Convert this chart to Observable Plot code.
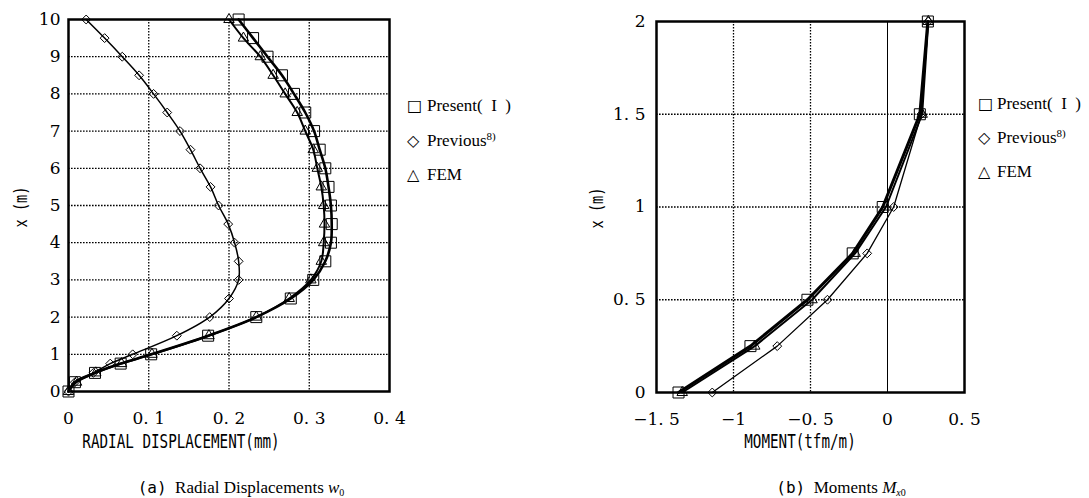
<!DOCTYPE html>
<html><head><meta charset="utf-8">
<script src="https://cdn.jsdelivr.net/npm/d3@7"></script>
<script src="https://cdn.jsdelivr.net/npm/@observablehq/plot@0.6"></script>
<style>
body{margin:0;background:#fff;}
#wrap{position:relative;width:1089px;height:498px;overflow:hidden;background:#fff;color:#000;}
.pl{position:absolute;top:0;}
.mono{position:absolute;white-space:nowrap;font-family:"DejaVu Sans Mono";color:#000;line-height:1;}
.leg{position:absolute;white-space:nowrap;font-family:"Liberation Serif";font-size:17px;line-height:18px;color:#000;}
.leg .sym{position:absolute;font-family:"DejaVu Sans";font-size:16px;}
.leg sup{font-size:11px;vertical-align:6px;line-height:0;}
.cap{position:absolute;white-space:nowrap;font-family:"Liberation Serif";font-size:17px;line-height:1;color:#000;transform:translate(-50%,-50%);}
.cap .p{font-family:"DejaVu Sans Mono";font-size:16px;}
.cap sub{font-size:10px;vertical-align:-3px;line-height:0;}
</style>
</head><body>
<div id="wrap"></div>
<script>
// ---------- data ----------
const depthA = [0,0.25,0.5,0.75,1,1.5,2,2.5,3,3.5,4,4.5,5,5.5,6,6.5,7,7.5,8,8.5,9,9.5,10];
const presentA = [0,0.008,0.033,0.065,0.103,0.174,0.234,0.277,0.305,0.320,0.327,0.328,0.327,0.324,0.320,0.313,0.306,0.295,0.281,0.266,0.248,0.230,0.212];
const femA     = [0,0.010,0.034,0.066,0.104,0.175,0.234,0.275,0.302,0.315,0.318,0.319,0.318,0.315,0.310,0.305,0.295,0.285,0.270,0.255,0.239,0.218,0.200];
const previousA= [0,0.008,0.031,0.052,0.080,0.135,0.176,0.200,0.212,0.212,0.207,0.199,0.187,0.177,0.164,0.152,0.139,0.123,0.106,0.088,0.067,0.045,0.022];

const depthB = [0,0.25,0.5,0.75,1,1.5,2];
const presentB = [-1.357,-0.890,-0.520,-0.226,-0.031,0.210,0.262];
const femB     = [-1.333,-0.862,-0.490,-0.210,-0.010,0.225,0.265];
const previousB= [-1.138,-0.716,-0.390,-0.132,0.040,0.220,0.265];

const xTicksA = [0,0.1,0.2,0.3,0.4];
const yTicksA = [0,1,2,3,4,5,6,7,8,9,10];
const gridXA = [0.1,0.2,0.3];
const gridYA = [1,2,3,4,5,6,7,8,9];
const xTicksB = [-1.5,-1,-0.5,0,0.5];
const yTicksB = [0,0.5,1,1.5,2];
const gridXB = [-1,-0.5];
const zeroB = [0];
const gridYB = [0.5,1,1.5];

const legendNames = ["Present(\u2002I\u2002)","Previous","FEM"];
const xLabelA = "RADIAL DISPLACEMENT(mm)";
const xLabelB = "MOMENT(tfm/m)";
const yLabel = "x (m)";

// ---------- helpers ----------
const rows = (depth, vals) => depth.map((d,i) => ({depth:d, value:vals[i]}));
const fmt = d => String(d).replace(".", ". ").replace("-", "\u2212");
const dash = {stroke:"#000", strokeWidth:1.3, strokeDasharray:"1.6,1.4"};

function panel({width, ml, mr, mt, mb, xd, yd, xt, yt, ypad, gx, gy, solidX, pres, fem, prev, curve, wP, wF, wV}) {
  return Plot.plot({
    width, height:440, marginLeft:ml, marginRight:mr, marginTop:mt, marginBottom:mb,
    x:{domain:xd, ticks:xt, tickFormat:fmt, tickSize:0, tickPadding:20, label:null},
    y:{domain:yd, ticks:yt, tickFormat:fmt, tickSize:0, tickPadding:ypad, label:null},
    style:{fontFamily:"DejaVu Serif", fontSize:"17px", color:"#000", background:"transparent", overflow:"visible"},
    marks:[
      Plot.ruleX(gx, dash),
      Plot.ruleY(gy, dash),
      solidX ? Plot.ruleX(solidX, {stroke:"#000", strokeWidth:1}) : null,
      Plot.line(prev, {x:"value", y:"depth", curve, stroke:"#000", strokeWidth:wV}),
      Plot.line(fem, {x:"value", y:"depth", curve, stroke:"#000", strokeWidth:wF}),
      Plot.line(pres, {x:"value", y:"depth", curve, stroke:"#000", strokeWidth:wP}),
      Plot.dot(prev, {x:"value", y:"depth", symbol:"diamond2", r:4, fill:"none", stroke:"#000", strokeWidth:1}),
      Plot.dot(fem, {x:"value", y:"depth", symbol:"triangle2", r:5, fill:"none", stroke:"#000", strokeWidth:1}),
      Plot.dot(pres, {x:"value", y:"depth", symbol:"square2", r:7, fill:"none", stroke:"#000", strokeWidth:1}),
      Plot.frame({stroke:"#000", strokeWidth:2.5})
    ]
  });
}

const wrap = document.getElementById("wrap");

const pa = panel({width:400, ml:68, mr:11, mt:19, mb:49, xd:[0,0.4], yd:[0,10], xt:xTicksA, yt:yTicksA, ypad:8,
  gx:gridXA, gy:gridYA, solidX:null, pres:rows(depthA,presentA), fem:rows(depthA,femA), prev:rows(depthA,previousA),
  curve:"catmull-rom", wP:2.6, wF:2, wV:1.5});
pa.classList.add("pl"); pa.style.left = "0px";
wrap.appendChild(pa);

const pb = panel({width:420, ml:96, mr:16, mt:21, mb:48, xd:[-1.5,0.5], yd:[0,2], xt:xTicksB, yt:yTicksB, ypad:11,
  gx:gridXB, gy:gridYB, solidX:zeroB, pres:rows(depthB,presentB), fem:rows(depthB,femB), prev:rows(depthB,previousB),
  curve:"linear", wP:3, wF:2, wV:1.3});
pb.classList.add("pl"); pb.style.left = "560px";
wrap.appendChild(pb);

// ---------- axis labels ----------
function monoLabel(text, cx, cy, size, sx, rot) {
  const d = document.createElement("div");
  d.className = "mono";
  d.textContent = text;
  d.style.fontSize = size + "px";
  d.style.left = cx + "px"; d.style.top = cy + "px";
  d.style.transform = `translate(-50%,-50%) ${rot ? "rotate(-90deg)" : ""} scaleX(${sx})`;
  wrap.appendChild(d);
}
monoLabel(yLabel, 21, 207, 18, 0.76, true);
monoLabel(yLabel, 597, 208, 18, 0.76, true);
monoLabel(xLabelA, 181, 441, 19, 0.75, false);
monoLabel(xLabelB, 800, 441, 19, 0.75, false);

// ---------- legends ----------
const syms = ["\u25A1","\u25C7","\u25B3"];
function legend(symLeft, textLeft, centers) {
  legendNames.forEach((name, i) => {
    const d = document.createElement("div");
    d.className = "leg";
    d.style.left = textLeft + "px";
    d.style.top = (centers[i] - 9) + "px";
    d.innerHTML = name + (i === 1 ? "<sup>8)</sup>" : "");
    const s = document.createElement("span");
    s.className = "sym";
    s.textContent = syms[i];
    s.style.left = (symLeft - textLeft) + "px";
    s.style.top = "0px";
    d.appendChild(s);
    wrap.appendChild(d);
  });
}
legend(407, 427, [106,141,175]);
legend(978, 997, [104,138,172]);

// ---------- captions ----------
function caption(html, cx, cy) {
  const d = document.createElement("div");
  d.className = "cap";
  d.innerHTML = html;
  d.style.left = cx + "px"; d.style.top = cy + "px";
  wrap.appendChild(d);
}
caption('<span class="p">(a)</span>&nbsp;&nbsp;Radial Displacements <i>w</i><sub>0</sub>', 241, 487);
caption('<span class="p">(b)</span>&nbsp;&nbsp;Moments <i>M</i><sub><i>x</i>0</sub>', 841, 487);
</script>
</body></html>
